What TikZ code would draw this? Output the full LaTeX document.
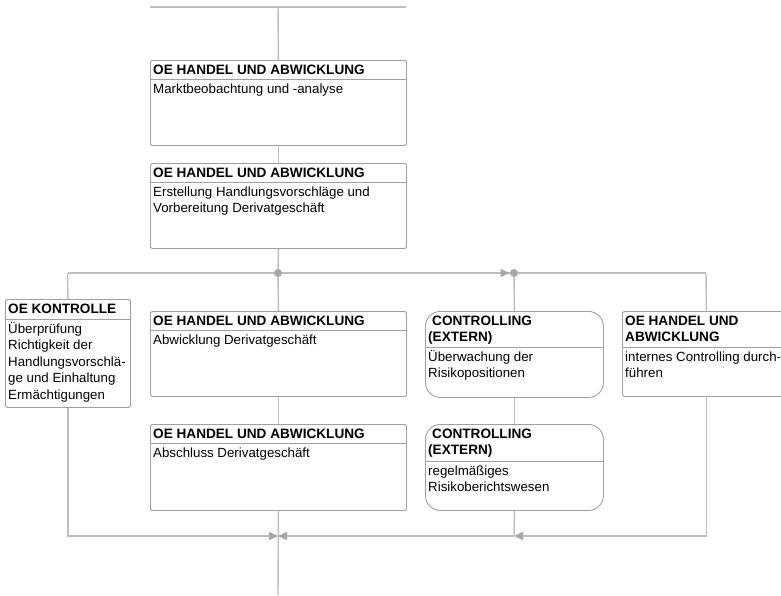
\documentclass[tikz,border=0pt]{standalone}
\usepackage{fontspec}
\setmainfont{Liberation Sans}
\usetikzlibrary{arrows.meta}

\definecolor{linegray}{HTML}{BDBDBD}
\definecolor{framegray}{HTML}{A0A0A0}
\definecolor{tipgray}{HTML}{A8A8A8}

\tikzset{
  flow/.style={draw=linegray, line width=1.4pt},
  flowtip/.style={flow, -{Triangle[length=9pt,width=8pt,color=tipgray]}},
  stepbox/.style={draw=framegray, line width=0.9pt, rounded corners=1.5pt, inner sep=0pt, fill=white},
  ctrlbox/.style={stepbox, rounded corners=15pt},
  divline/.style={draw=framegray, line width=0.9pt},
  joindot/.style={fill=tipgray},
}

\newcommand\boxtextfont{\fontsize{13.3}{16.5}\selectfont}
\newcommand\boxheadfont{\fontsize{13.6}{16.5}\selectfont\bfseries}

% #1 name, #2 style, #3 x, #4 y, #5 width, #6 height,
% #7 depth of the header rule, #8 header, #9 body
\newcommand\flowbox[9]{%
  \node[#2, minimum width=#5pt, minimum height=#6pt, anchor=north west] (#1) at (#3,#4) {};
  \draw[divline] ([yshift=-#7pt]#1.north west) -- ([yshift=-#7pt]#1.north east);
  \node[anchor=base west, inner sep=0pt] (#1-head) at ([xshift=3pt,yshift=-14pt]#1.north west)
    {\parbox[t]{#5pt}{\boxheadfont\raggedright #8}};
  \node[anchor=base west, inner sep=0pt] (#1-body) at ([xshift=3pt,yshift={-(#7+14)*1pt}]#1.north west)
    {\parbox[t]{#5pt}{\boxtextfont\raggedright #9}};
}

\begin{document}
\begin{tikzpicture}[x=1pt, y=-1pt]
  \clip (0,0) rectangle (781,595);
  \fill[white] (0,0) rectangle (781,595);

  % process steps
  \flowbox{b1}{stepbox}{150}{60}{256}{85}{19}{OE HANDEL UND ABWICKLUNG}{Marktbeobachtung und -analyse}
  \flowbox{b2}{stepbox}{150}{163}{256}{85}{19}{OE HANDEL UND ABWICKLUNG}{Erstellung Handlungsvorschläge und\\Vorbereitung Derivatgeschäft}
  \flowbox{kon}{stepbox}{5}{299}{125}{108}{20}{OE KONTROLLE}{Überprüfung\\Richtigkeit der\\Handlungsvorschlä-\\ge und Einhaltung\\Ermächtigungen}
  \flowbox{b3}{stepbox}{150}{311}{256}{85}{19}{OE HANDEL UND ABWICKLUNG}{Abwicklung Derivatgeschäft}
  \flowbox{b4}{stepbox}{150}{424}{256}{86}{19}{OE HANDEL UND ABWICKLUNG}{Abschluss Derivatgeschäft}
  \flowbox{c1}{ctrlbox}{425}{311}{178}{86}{36}{\hspace*{4pt}CONTROLLING\\(EXTERN)}{Überwachung der\\Risikopositionen}
  \flowbox{c2}{ctrlbox}{425}{424}{178}{86}{37}{\hspace*{4pt}CONTROLLING\\(EXTERN)}{regelmäßiges\\Risikoberichtswesen}
  \flowbox{r1}{stepbox}{622}{311}{168}{85}{36}{OE HANDEL UND\\ABWICKLUNG}{internes Controlling durch-\\führen}

  % branch and join points
  \coordinate (topL) at (150,7);
  \coordinate (topR) at (406,7);
  \coordinate (topM) at (278,7);
  \coordinate (splitL) at (67.5,273);
  \coordinate (splitM) at (278,273);
  \coordinate (splitC) at (514,273);
  \coordinate (splitR) at (706,273);
  \coordinate (joinM) at (278,536);
  \coordinate (joinC) at (514,536);
  \coordinate (exit) at (278,595);

  % incoming line
  \draw[flow] (topL) -- (topR);
  \draw[flow] (topM) -- (b1.north);
  \draw[flow] (b1.south) -- (b2.north);

  % split
  \draw[flow] (b2.south) -- (splitM);
  \draw[flow] (splitL) -- (splitR);
  \draw[flow] (splitL) -- (kon.north);
  \draw[flow] (splitM) -- (b3.north);
  \draw[flow] (splitC) -- (c1.north);
  \draw[flow] (splitR) -- (r1.north);
  \draw[flowtip] (splitM) -- ([xshift=-4.5pt]splitC);
  \fill[joindot] (splitM) circle (4pt);
  \fill[joindot] (splitC) circle (4pt);

  % inner chains
  \draw[flow] (b3.south) -- (b4.north);
  \draw[flow] (c1.south) -- (c2.north);

  % join
  \draw[flow] (b4.south) -- (exit);
  \draw[flow] (c2.south) -- (joinC);
  \draw[flowtip] (r1.south) |- (joinC);
  \draw[flowtip] (joinC) -- (joinM);
  \draw[flowtip] (kon.south) |- (joinM);
\end{tikzpicture}
\end{document}
